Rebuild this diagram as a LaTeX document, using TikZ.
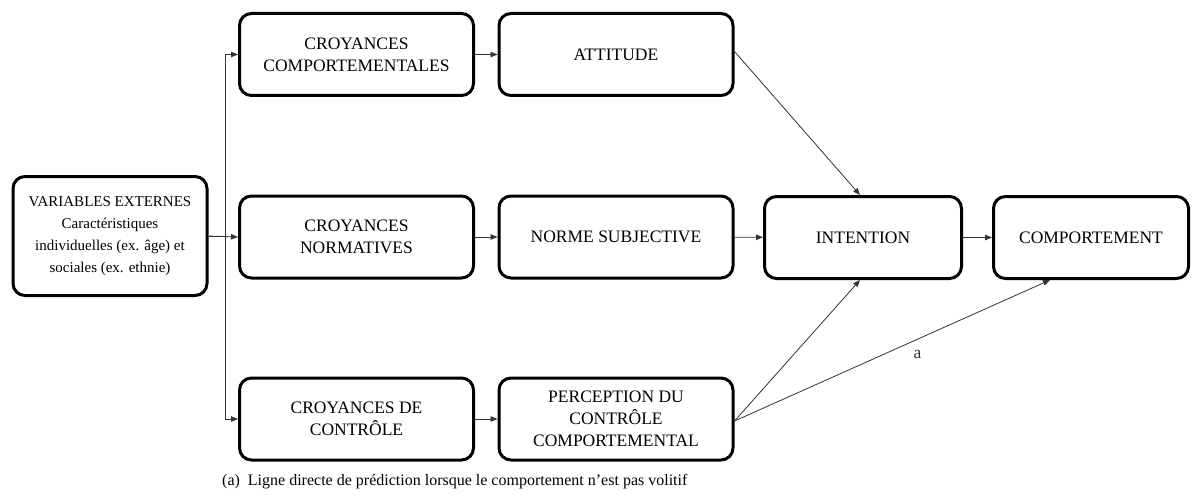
\documentclass[tikz,border=0pt]{standalone}
\usepackage{fontspec}
\setmainfont{Liberation Serif}
\usetikzlibrary{arrows.meta}

\begin{document}
\begin{tikzpicture}[x=1pt,y=-1pt,
  box/.style={draw,line width=3pt,rounded corners=12pt,minimum width=234pt,
    minimum height=82pt,align=center,inner sep=0pt,font=\fontsize{17.5}{22}\selectfont},
  conn/.style={-{Triangle[length=7pt,width=5.5pt]},line width=0.8pt,black!80}]
  \useasboundingbox (0,0) rectangle (1193,500);
  \node[box,minimum width=194pt,minimum height=119pt,font=\fontsize{15}{22}\selectfont]
     (varext) at (110,236) {VARIABLES EXTERNES\\Caractéristiques\\individuelles (ex. âge) et\\sociales (ex. ethnie)};
  \node[box] (ccomp) at (356.5,54.5) {CROYANCES\\COMPORTEMENTALES};
  \node[box] (attitude) at (616,54.5) {ATTITUDE};
  \node[box] (cnorm) at (356.5,237) {CROYANCES\\NORMATIVES};
  \node[box] (norme) at (616,237) {NORME SUBJECTIVE};
  \node[box] (ccontr) at (356.5,419) {CROYANCES DE\\CONTRÔLE};
  \node[box] (percep) at (616,419) {PERCEPTION DU\\CONTRÔLE\\COMPORTEMENTAL};
  \node[box,minimum width=197pt] (intention) at (863,237.5) {INTENTION};
  \node[box,minimum width=195pt] (comport) at (1091,237.5) {COMPORTEMENT};
  \node[anchor=west,inner sep=0pt,font=\fontsize{16}{20}\selectfont] (legende) at (222,482)
     {(a)\ \ Ligne directe de prédiction lorsque le comportement n’est pas volitif};

  \draw[conn] (varext.east) -- (cnorm.west);
  \draw[conn] (varext.east) -- ++(17,0) |- (ccomp.west);
  \draw[conn] (varext.east) -- ++(17,0) |- (ccontr.west);
  \draw[conn] (ccomp) -- (attitude);
  \draw[conn] (cnorm) -- (norme);
  \draw[conn] (ccontr) -- (percep);
  \draw[conn] (norme) -- (intention);
  \draw[conn] (intention) -- (comport);
  \draw[conn] ([yshift=3pt]attitude.east) -- ([xshift=-3pt]intention.north);
  \draw[conn] ([yshift=-2pt]percep.east) -- ([xshift=-3pt]intention.south);
  \draw[conn] ([yshift=-2pt]percep.east) -- ([xshift=-41pt]comport.south)
     node[pos=.58,below=7pt,font=\fontsize{17.5}{22}\selectfont] (laba) {a};
\end{tikzpicture}
\end{document}
